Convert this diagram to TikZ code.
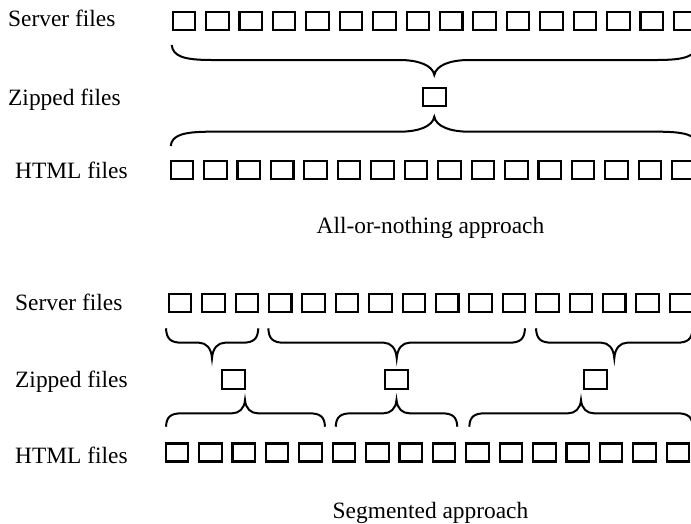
\documentclass[tikz,border=0pt]{standalone}
\usepackage{fontspec}
\setmainfont{Liberation Serif}
\newcommand\mybrace[8]{% x1,x2,xm,yE,yF,yT,we,wt
 \draw[brc] (#1,#4) .. controls ({#1+0.03*#7},{#4+0.75*(#5-#4)}) and ({#1+0.3*#7},#5) .. ({#1+#7},#5)
 -- ({#3-#8},#5) .. controls ({#3-0.45*#8},#5) and ({#3-0.05*#8},{#5+0.35*(#6-#5)}) .. (#3,#6)
 .. controls ({#3+0.05*#8},{#5+0.35*(#6-#5)}) and ({#3+0.45*#8},#5) .. ({#3+#8},#5)
 -- ({#2-#7},#5) .. controls ({#2-0.3*#7},#5) and ({#2-0.03*#7},{#4+0.75*(#5-#4)}) .. (#2,#4);}
\begin{document}
\begin{tikzpicture}[x=1pt,y=-1pt,
  fbox/.style={draw,line width=2.1pt,minimum width=22.5pt,minimum height=18pt,inner sep=0pt,outer sep=0pt},
  zbox/.style={fbox,minimum width=23pt,minimum height=18.5pt},
  lbl/.style={anchor=base west,inner sep=0pt,font=\fontsize{23.4}{28}\selectfont},
  ttl/.style={anchor=base,inner sep=0pt,font=\fontsize{23.4}{28}\selectfont},
  brc/.style={line width=2pt}]
\useasboundingbox (0,0) rectangle (691,523);
\clip (0,0) rectangle (691,523);
\fill[white] (0,0) rectangle (691,523);
% All-or-nothing
\node[lbl] (la1) at (8,26) {Server files};
\node[lbl] (la2) at (8,105) {Zipped files};
\node[lbl] (la3) at (15,178) {HTML files};
\foreach \i in {0,...,15} \node[fbox] (sa\i) at ({183.9+33.42*\i},20.8) {};
\node[zbox] (za) at (434.7,97) {};
\foreach \i in {0,...,15} \node[fbox] (ha\i) at ({181.9+33.44*\i},170.3) {};
\mybrace{171.7}{697}{434.3}{45}{60}{75}{40}{35}
\mybrace{170.7}{698}{434.3}{146}{131.7}{116.7}{40}{35}
\node[ttl] (ta) at (430.5,233.3) {All-or-nothing approach};
% Segmented
\node[lbl] (lb1) at (15,310) {Server files};
\node[lbl] (lb2) at (15,387) {Zipped files};
\node[lbl] (lb3) at (15,463) {HTML files};
\foreach \i in {0,...,15} \node[fbox] (sb\i) at ({180+33.4*\i},303.3) {};
\node[zbox] (zb1) at (233.7,379.5) {};
\node[zbox] (zb2) at (396.2,379.5) {};
\node[zbox] (zb3) at (595.5,379.5) {};
\foreach \i in {0,...,15} \node[fbox] (hb\i) at ({176.9+33.4*\i},452.5) {};
\mybrace{166}{258.3}{212}{328.3}{342.7}{358.3}{16}{13}
\mybrace{268.3}{525}{396.7}{328.3}{342.7}{358.3}{16}{13}
\mybrace{536}{692.6}{614.3}{328.3}{342.7}{358.3}{16}{13}
\mybrace{166}{325}{245}{426.7}{413.3}{400}{16}{13}
\mybrace{335.7}{457.3}{396.5}{426.7}{413.3}{400}{16}{13}
\mybrace{469.3}{692.7}{581}{426.7}{413.3}{400}{16}{13}
\node[ttl] (tb) at (430.5,518) {Segmented approach};
\end{tikzpicture}
\end{document}
